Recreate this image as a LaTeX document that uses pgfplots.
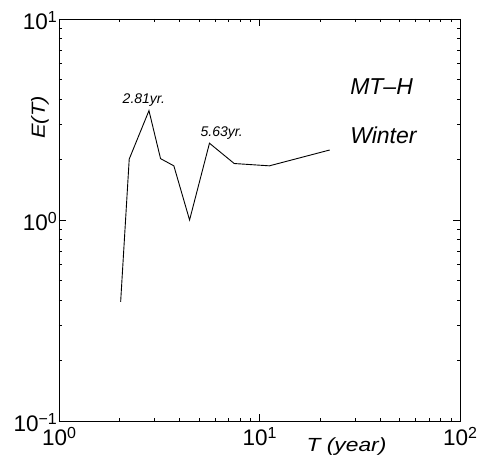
\documentclass[border=0pt]{standalone}
\usepackage{fontspec}
\setmainfont{Liberation Sans}
\usepackage{pgfplots}
\pgfplotsset{compat=1.18}
\newcommand\tp[1]{10\raisebox{7pt}{\fontsize{16}{16}\selectfont #1}}
\begin{document}
\begin{tikzpicture}
\begin{axis}[
  xmode=log, ymode=log, clip=false,
  scale only axis, width=401pt, height=402pt,
  xmin=1, xmax=100, ymin=0.1, ymax=10,
  xtick={1,10,100}, xticklabels={\tp{0},\tp{1},\tp{2}},
  ytick={0.1,1,10}, yticklabels={\tp{−1},\tp{0},\tp{1}},
  tick align=inside,
  major tick length=7pt, minor tick length=3.5pt,
  every tick/.style={black, line width=0.6pt},
  axis line style={line width=0.9pt},
  tick label style={font=\fontsize{22.5}{26}\selectfont},
  xticklabel style={inner ysep=6pt},
  yticklabel style={inner xsep=2pt, yshift=-2pt},
]
\addplot[black, line width=0.9pt] coordinates {
(2.03,0.392) (2.24,2.01) (2.81,3.50) (3.21,2.02) (3.74,1.86) (4.48,1.00)
(5.63,2.41) (7.48,1.91) (11.2,1.86) (22.4,2.23)
};
\node[anchor=base, inner sep=0, font=\fontsize{14}{16}\selectfont\itshape] at (axis cs:2.65,3.82) {2.81yr.};
\node[anchor=base, inner sep=0, font=\fontsize{14}{16}\selectfont\itshape] at (axis cs:6.48,2.60) {5.63yr.};
\node[anchor=base west, inner sep=0, font=\fontsize{23}{26}\selectfont\itshape] at (axis cs:28.3,4.19) {MT–H};
\node[anchor=base west, inner sep=0, font=\fontsize{23}{26}\selectfont\itshape] at (axis cs:28.3,2.41) {Winter};
\node[anchor=base, inner sep=0, yshift=-30.5pt, font=\fontsize{19}{22}\selectfont\itshape] at (axis description cs:0.717,0) {\scalebox{1.2}[1]{T (year)}};
\node[anchor=base, inner sep=0, rotate=90, font=\fontsize{19}{22}\selectfont\itshape] at ([xshift=-14pt]axis description cs:0,0.755) {\scalebox{1.15}[1]{E(T)}};
\end{axis}
\pgfresetboundingbox
\path[use as bounding box] (current axis.south west) ++(-59pt,-45pt) rectangle ++(483pt,466pt);
\end{tikzpicture}
\end{document}
